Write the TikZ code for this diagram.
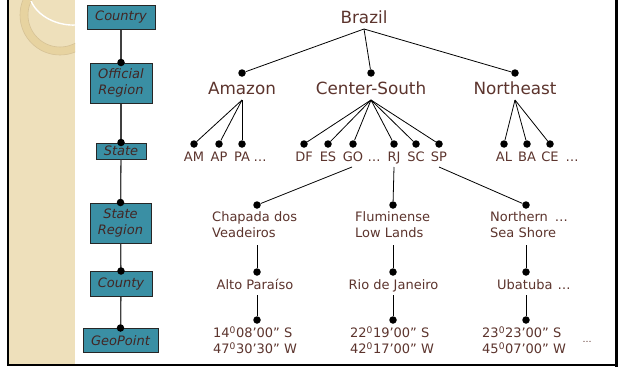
\documentclass[tikz,border=0pt]{standalone}
\usepackage{fontspec}
\setmainfont{DejaVu Sans}

\definecolor{panel}{RGB}{238,224,187}
\definecolor{ringc}{RGB}{231,211,160}
\definecolor{ringedge}{RGB}{214,194,150}
\definecolor{tealbox}{RGB}{58,143,164}
\definecolor{ink}{RGB}{92,52,45}
\definecolor{boxink}{RGB}{66,38,36}

\begin{document}
\begin{tikzpicture}[x=1pt,y=-1pt,
  cat/.style={draw=black!85, line width=1pt, fill=tealbox, text=boxink,
    inner sep=0pt, align=center, font=\fontsize{13}{16.5}\selectfont\itshape},
  big/.style={text=ink, inner sep=0pt, anchor=base,
    font=\fontsize{16.8}{20}\selectfont},
  lbl/.style={text=ink, inner sep=0pt, font=\fontsize{13}{16}\selectfont},
  dot/.style={circle, fill=black, inner sep=0pt, minimum size=7.5pt},
  link/.style={line width=0.8pt, black},
  stem/.style={line width=1.3pt, black!75},
]
\useasboundingbox (0,0) rectangle (620,367);
\fill[white] (0,0) rectangle (620,367);

% side panel with its ornamental ring
\fill[panel] (9,0) rectangle (75,366);
\begin{scope}
  \clip (9,0) rectangle (75,366);
  \fill[ringc, even odd rule] (60,15) circle (40) (60,15) circle (32);
  \draw[ringedge, line width=0.6pt] (60,15) circle (40);
  \draw[ringedge, line width=0.6pt] (60,15) circle (32);
  \draw[white, line width=1.4pt] (31,1) .. controls (38,17) and (58,26) .. (76,25);
\end{scope}

% frame
\draw[line width=2pt] (8,0) -- (8,365);
\draw[line width=2pt] (7,365) -- (618,365);
\draw[line width=3pt] (616.5,0) -- (616.5,366.5);

% hierarchy of levels
\node[cat, minimum width=68pt, minimum height=24pt] (country) at (121,17) {Country};
\node[cat, minimum width=62pt, minimum height=40pt] (offreg) at (121,83) {Official\\Region};
\node[cat, minimum width=50pt, minimum height=16pt] (state) at (121,151) {State};
\node[cat, minimum width=61pt, minimum height=40pt] (streg) at (120.5,223) {State\\Region};
\node[cat, minimum width=62pt, minimum height=25pt] (county) at (121,284) {County};
\node[cat, minimum width=75pt, minimum height=24pt] (geopt) at (120.5,340.5) {GeoPoint};

\draw[stem] (country) -- (offreg);
\draw[stem] (offreg) -- (state);
\draw[stem] (state) -- (streg);
\draw[stem] (streg) -- (county);
\draw[stem] (county) -- (geopt);
\foreach \b in {offreg,state,streg,county,geopt}
  \node[dot] (d\b) at (\b.north) {};

% country and regions
\node[big] (brazil) at (364,23.3) {Brazil};
\coordinate (brB) at (364,29);

\node[dot] (dAmz) at (242,73) {};
\node[big] (amz) at (242,94.3) {Amazon};
\coordinate (amB) at (242,100);
\node[dot] (dCS) at (371,73) {};
\node[big] (cs) at (371,94.3) {Center-South};
\coordinate (csB) at (371,100);
\node[dot] (dNE) at (515,73) {};
\node[big] (ne) at (515,94.3) {Northeast};
\coordinate (neB) at (515,100);

\draw[link] (brB) -- (dAmz);
\draw[link] (brB) -- (dCS);
\draw[link] (brB) -- (dNE);

% states
\foreach \s/\x/\r in {AM/194/amB, AP/219/amB, PA/242/amB,
                      DF/304/csB, ES/328/csB, GO/353/csB, RJ/394/csB, SC/416/csB, SP/439/csB,
                      AL/504/neB, BA/527/neB, CE/550/neB} {
  \node[dot] (d\s) at (\x,144) {};
  \node[lbl, anchor=base] (\s) at (\x,161) {\s};
  \draw[link] (\r) -- (d\s);
}
\node[lbl, anchor=base] (ellA) at (260,161) {…};
\node[lbl, anchor=base] (ellC) at (374,161) {…};
\node[lbl, anchor=base] (ellN) at (572,161) {…};

% state regions
\coordinate (GOb) at (352,167);
\coordinate (RJb) at (394,167);
\coordinate (SPb) at (439,167);
\node[dot] (dChap) at (257,205) {};
\node[dot] (dFlu) at (393,205) {};
\node[dot] (dNor) at (526,205) {};
\draw[link] (GOb) -- (dChap);
\draw[link] (RJb) -- (dFlu);
\draw[link] (SPb) -- (dNor);

\node[lbl, align=left, anchor=west] (chap) at (212,225) {Chapada dos\\Veadeiros};
\node[lbl, align=left, anchor=west] (flu) at (355,225) {Fluminense\\Low Lands};
\node[lbl, align=left, anchor=west] (nor) at (490,225) {Northern\hspace{7pt}…\\Sea Shore};

% counties
\coordinate (chapB) at (257,245);
\coordinate (fluB) at (393,245);
\coordinate (norB) at (526,245);
\node[dot] (dAlto) at (257,272) {};
\node[dot] (dRio) at (393,272) {};
\node[dot] (dUba) at (526,272) {};
\draw[link] (chapB) -- (dAlto);
\draw[link] (fluB) -- (dRio);
\draw[link] (norB) -- (dUba);

\node[lbl, anchor=base] (alto) at (255,289) {Alto Paraíso};
\node[lbl, anchor=base] (rio) at (393.5,289) {Rio de Janeiro};
\node[lbl, anchor=base west] (uba) at (497,289) {Ubatuba\hspace{5pt}…};

% geographic points
\coordinate (altoB) at (257,295);
\coordinate (rioB) at (393,295);
\coordinate (ubaB) at (526,295);
\node[dot] (dG1) at (257,320) {};
\node[dot] (dG2) at (393,320) {};
\node[dot] (dG3) at (526,320) {};
\draw[link] (altoB) -- (dG1);
\draw[link] (rioB) -- (dG2);
\draw[link] (ubaB) -- (dG3);

\node[lbl, align=left, anchor=west] (g1) at (213,340)
  {14\textsuperscript{0}08’00” S\\47\textsuperscript{0}30’30” W};
\node[lbl, align=left, anchor=west] (g2) at (350,340)
  {22\textsuperscript{0}19’00” S\\42\textsuperscript{0}17’00” W};
\node[lbl, align=left, anchor=west] (g3) at (482,340)
  {23\textsuperscript{0}23’00” S\\45\textsuperscript{0}07’00” W};
\node[text=ink, inner sep=0pt, font=\fontsize{9}{10}\selectfont] (geoEll) at (587,342) {…};
\end{tikzpicture}
\end{document}
